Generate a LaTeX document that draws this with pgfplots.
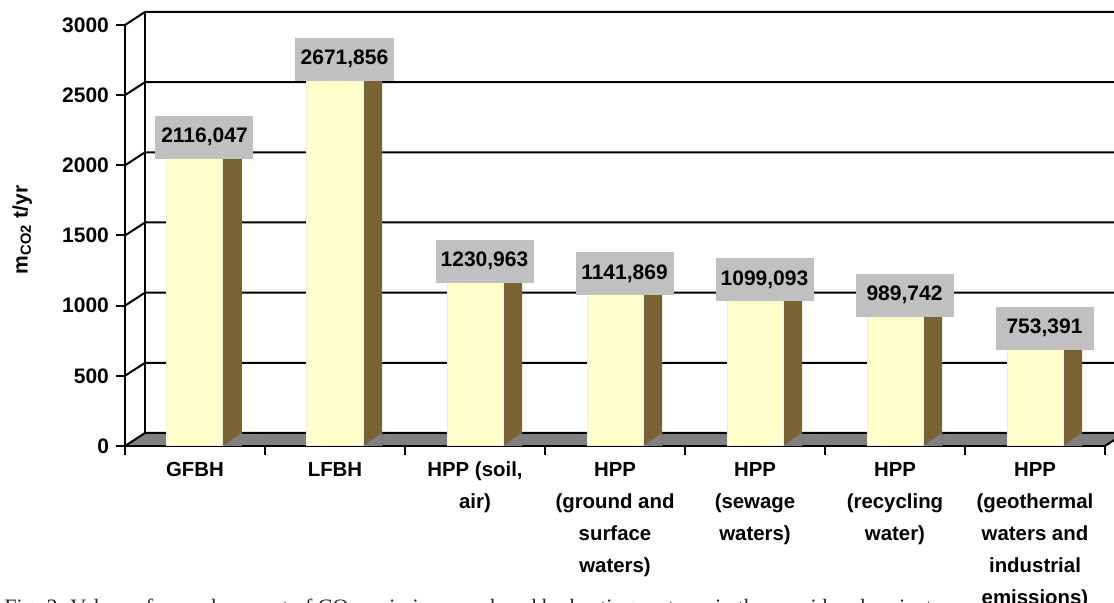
\documentclass[border=0pt]{standalone}
\usepackage{fontspec}
\setmainfont{Liberation Sans}
\newfontfamily\capfont{Liberation Serif}
\usepackage{pgfplots}
\usepackage{pgfplotstable}
\pgfplotsset{compat=1.18}

\definecolor{barfront}{HTML}{FFFFCC}
\definecolor{barside}{HTML}{7A6333}
\definecolor{floorgray}{HTML}{808080}
\definecolor{labelgray}{HTML}{C0C0C0}

% small floor triangle in front of each bar's side face
\pgfdeclareplotmark{floortri}{%
  \pgfpathmoveto{\pgfpoint{14pt}{0pt}}%
  \pgfpathlineto{\pgfpoint{23.5pt}{0pt}}%
  \pgfpathlineto{\pgfpoint{23.5pt}{6.5pt}}%
  \pgfpathclose
  \pgfusepathqfill}

\pgfplotstableread{
x y base
0 2116.047 0
1 2671.856 0
2 1230.963 0
3 1141.869 0
4 1099.093 0
5 989.742 0
6 753.391 0
}\emissions

\begin{document}
\begin{tikzpicture}
\useasboundingbox (0,0) rectangle (557pt,301.5pt);
\clip (0,0) rectangle (557pt,301.5pt);

% back wall and floor, in pixel units of the reference
\begin{scope}[yshift=301.5pt, x=0.5pt, y=-0.5pt]
  \fill[floorgray] (125,446) -- (1105,446) -- (1125,433) -- (145,433) -- cycle;
  \draw[line width=1pt] (1105,446) -- (1125,433);
  \foreach \yy in {0,500,...,3000} {
    \pgfmathsetmacro\yb{433-\yy/3000*421}
    \draw[line width=1pt] (125,\yb+13) -- (145,\yb) -- (1130,\yb);
  }
  \draw[line width=1pt] (145,433) -- (145,12);
  \node[anchor=north west, inner sep=0pt, text=black!85,
        font=\capfont\fontsize{11}{13}\selectfont] at (4,599)
    {Fig. 3. Values of annual amount of CO\textsubscript{2} emissions produced by heating systems in the considered variants};
\end{scope}

\begin{axis}[
  at={(62.5pt,78.5pt)}, anchor=south west,
  scale only axis, width=490pt, height=210.5pt,
  xmin=-0.5, xmax=6.5, ymin=0, ymax=3000,
  clip=false,
  axis x line*=bottom, axis y line*=left,
  axis line style={line width=1pt, -},
  tick align=outside, major tick length=4.5pt,
  tick style={line width=1pt, black},
  xtick={-0.5,0.5,...,6.5},
  x tick label as interval,
  xticklabels={GFBH, LFBH, {HPP (soil,\\air)}, {HPP\\(ground and\\surface\\waters)},
    {HPP\\(sewage\\waters)}, {HPP\\(recycling\\water)},
    {HPP\\(geothermal\\waters and\\industrial\\emissions)}},
  x tick label style={align=center, font=\fontsize{10.2}{16}\selectfont\bfseries},
  ytick={0,500,...,3000},
  y tick label style={font=\fontsize{10.5}{12}\selectfont\bfseries},
  /pgf/number format/assume math mode=true,
  /pgf/number format/1000 sep={},
  ylabel={m\textsubscript{CO2} t/yr},
  ylabel style={at={(axis description cs:-0.105,0.513)}, anchor=center,
    font=\fontsize{10.5}{12}\selectfont\bfseries},
]
\addplot[ybar, bar width=9.5pt, bar shift=18.75pt, fill=barside, draw=none]
  table[x=x, y=y] {\emissions};
\addplot[only marks, mark=floortri, color=floorgray]
  table[x=x, y=base] {\emissions};
\addplot[ybar, bar width=28pt, bar shift=0pt, fill=barfront, draw=gray!15,
  line width=0.5pt, point meta=y,
  nodes near coords={\pgfmathprintnumber[fixed, fixed zerofill, precision=3,
    use comma, 1000 sep={}, assume math mode=true]{\pgfplotspointmeta}},
  nodes near coords style={fill=labelgray, anchor=south, xshift=4.75pt,
    yshift=-5pt, minimum width=49pt, minimum height=21.5pt, inner sep=0pt,
    text=black, font=\fontsize{10.5}{12}\selectfont\bfseries}]
  table[x=x, y=y] {\emissions};
\end{axis}
\end{tikzpicture}
\end{document}
